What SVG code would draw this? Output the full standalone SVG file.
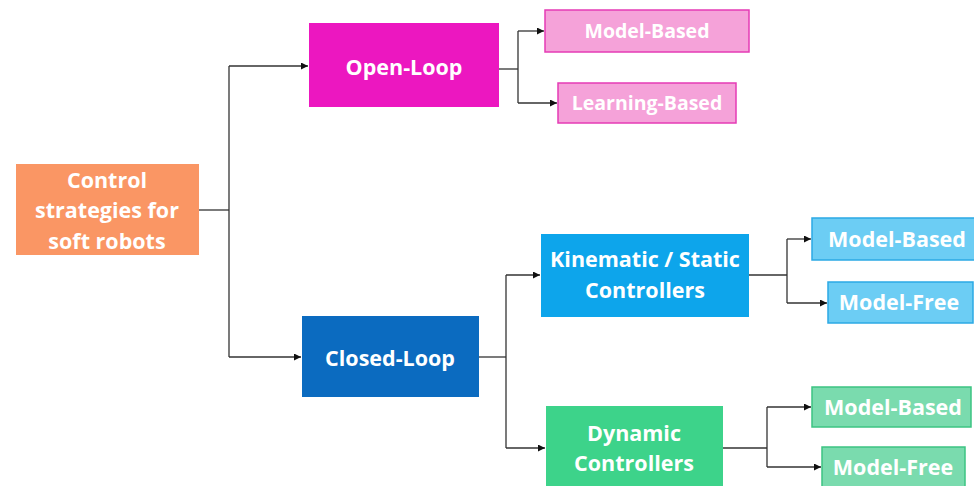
<svg xmlns="http://www.w3.org/2000/svg" width="974" height="486" viewBox="0 0 974 486">
<style>
  text { font-family: "Open Sans", "Liberation Sans", sans-serif; font-weight: bold; fill: #ffffff; text-anchor: middle; }
  .big { font-size: 21.5px; }
  .mid { font-size: 21.5px; }
  .small { font-size: 19.5px; }
  .conn { fill: none; stroke: #333333; stroke-width: 1.3; }
</style>
<defs>
  <marker id="arr" viewBox="0 0 10 10" refX="10" refY="5" markerWidth="7" markerHeight="7" markerUnits="userSpaceOnUse" orient="auto">
    <path d="M0,0 L10,5 L0,10 z" fill="#111111"/>
  </marker>
</defs>
<rect width="974" height="486" fill="#ffffff"/>
<g id="connectors">
  <path class="conn" d="M199,210 H229"/>
  <path class="conn" d="M229,66 V357"/>
  <path class="conn" d="M229,66 H308" marker-end="url(#arr)"/>
  <path class="conn" d="M229,357 H301" marker-end="url(#arr)"/>
  <path class="conn" d="M499,69 H518"/>
  <path class="conn" d="M518,31 V103"/>
  <path class="conn" d="M518,31 H544" marker-end="url(#arr)"/>
  <path class="conn" d="M518,103 H557" marker-end="url(#arr)"/>
  <path class="conn" d="M479,357 H506"/>
  <path class="conn" d="M506,275 V448"/>
  <path class="conn" d="M506,275 H540" marker-end="url(#arr)"/>
  <path class="conn" d="M506,448 H545" marker-end="url(#arr)"/>
  <path class="conn" d="M749,275 H787"/>
  <path class="conn" d="M787,239 V303"/>
  <path class="conn" d="M787,239 H811" marker-end="url(#arr)"/>
  <path class="conn" d="M787,303 H827" marker-end="url(#arr)"/>
  <path class="conn" d="M723,448 H767"/>
  <path class="conn" d="M767,407 V467"/>
  <path class="conn" d="M767,407 H811" marker-end="url(#arr)"/>
  <path class="conn" d="M767,467 H821" marker-end="url(#arr)"/>
</g>
<g id="root">
  <rect x="16" y="164" width="183" height="91" fill="#FA9664"/>
  <text class="big" x="107" y="188">Control</text>
  <text class="big" x="107" y="218">strategies for</text>
  <text class="big" x="107" y="249">soft robots</text>
</g>
<g id="open-loop">
  <rect x="309" y="23" width="190" height="84" fill="#EC17C0"/>
  <text class="big" x="404" y="75">Open-Loop</text>
</g>
<g id="ol-model-based">
  <rect x="545" y="10" width="204" height="42" fill="#F5A2D9" stroke="#E53BB5" stroke-width="1.5"/>
  <text class="small" x="647" y="38">Model-Based</text>
</g>
<g id="ol-learning-based">
  <rect x="558" y="83" width="178" height="40" fill="#F5A2D9" stroke="#E53BB5" stroke-width="1.5"/>
  <text class="small" x="647" y="110">Learning-Based</text>
</g>
<g id="closed-loop">
  <rect x="302" y="316" width="177" height="81" fill="#0B6BC0"/>
  <text class="big" x="390" y="366">Closed-Loop</text>
</g>
<g id="kinematic">
  <rect x="541" y="234" width="208" height="83" fill="#0DA5EB"/>
  <text class="big" x="645" y="267">Kinematic / Static</text>
  <text class="big" x="645" y="298">Controllers</text>
</g>
<g id="kin-model-based">
  <rect x="812" y="218" width="166" height="42" fill="#6CCDF4" stroke="#2BA9E5" stroke-width="1.5"/>
  <text class="mid" x="897" y="247">Model-Based</text>
</g>
<g id="kin-model-free">
  <rect x="828" y="282" width="145" height="41" fill="#6CCDF4" stroke="#2BA9E5" stroke-width="1.5"/>
  <text class="mid" x="899" y="310">Model-Free</text>
</g>
<g id="dynamic">
  <rect x="546" y="406" width="177" height="90" fill="#3DD38A"/>
  <text class="big" x="634" y="441">Dynamic</text>
  <text class="big" x="634" y="471">Controllers</text>
</g>
<g id="dyn-model-based">
  <rect x="812" y="387" width="159" height="40" fill="#7ADBAE" stroke="#3CC482" stroke-width="1.5"/>
  <text class="mid" x="893" y="415">Model-Based</text>
</g>
<g id="dyn-model-free">
  <rect x="822" y="447" width="143" height="45" fill="#7ADBAE" stroke="#3CC482" stroke-width="1.5"/>
  <text class="mid" x="893" y="475">Model-Free</text>
</g>
</svg>
